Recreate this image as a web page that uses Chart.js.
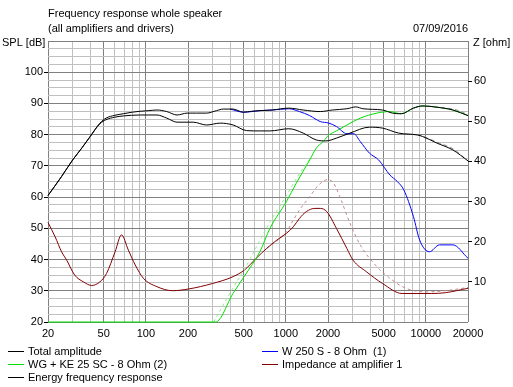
<!DOCTYPE html>
<html>
<head>
<meta charset="utf-8">
<script src="https://cdn.jsdelivr.net/npm/chart.js@4"></script>
<style>
  body { margin: 0; background: #fff; }
  canvas { display: block; }
</style>
</head>
<body>
<canvas id="freqChart" width="513" height="387"></canvas>
<script>
// frequency axis
const xTicks = [20, 30, 40, 50, 60, 70, 80, 90, 100, 200, 300, 400, 500, 600, 700, 800, 900,
  1000, 2000, 3000, 4000, 5000, 6000, 7000, 8000, 9000, 10000, 20000];
const xLabels = [20, 50, 100, 200, 500, 1000, 2000, 5000, 10000, 20000];

// Total amplitude (dB)
const totalF = [20, 25, 30, 35, 40, 47, 52, 60, 69, 80, 91, 105, 120, 141, 167, 197, 230, 271, 320, 357,
  420, 496, 570, 652, 800, 1050, 1330, 1760, 2150, 2730, 3160, 3560, 4900, 5770, 6680, 8150, 9500, 12000, 15600, 20000];
const totalV = [60.5, 66.6, 71.9, 75.8, 79.4, 83.7, 85.3, 86.2, 86.7, 87.2, 87.5, 87.7, 87.9, 87.4, 86.3, 86.9, 86.9, 86.9, 87.7, 88.2,
  88.2, 87.2, 87.5, 87.7, 87.9, 88.5, 87.9, 87.4, 87.9, 88.3, 88.9, 88.3, 87.9, 86.9, 86.7, 88.5, 89.2, 88.8, 87.9, 86.1];

// Energy frequency response (dB)
const energyF = [20, 25, 30, 35, 40, 47, 52, 60, 69, 91, 120, 141, 167, 218, 271, 340, 420, 524, 652, 770,
  1050, 1330, 1650, 1930, 2300, 2870, 3950, 4900, 6400, 8700, 9500, 12000, 15600, 20000];
const energyV = [60.5, 66.6, 71.9, 75.8, 79.4, 83.5, 84.8, 85.6, 86.0, 86.3, 86.3, 85.3, 84.0, 84.0, 83.1, 83.7, 83.1, 81.3, 81.2, 81.2,
  81.9, 80.5, 78.3, 78.0, 78.9, 80.5, 82.4, 82.1, 80.5, 79.9, 79.4, 77.3, 75.1, 71.6];

// W 250 S - 8 Ohm (1) (dB)
const wooferF = [400, 500, 652, 800, 1050, 1250, 1480, 1760, 2030, 2300, 2730, 3050, 3400, 3950, 4600, 5530,
  6250, 6960, 8150, 9020, 10600, 12500, 15600, 20000];
const wooferV = [88.2, 87.2, 87.7, 87.9, 88.3, 87.4, 86.1, 84.2, 83.7, 82.6, 80.3, 80.3, 77.8, 74.1, 71.9, 67.1,
  65.0, 62.3, 53.8, 46.3, 42.5, 44.7, 44.7, 40.4];

// WG + KE 25 SC - 8 Ohm (2) (dB)
const tweeterF = [20, 315, 420, 508, 652, 770, 1010, 1185, 1480, 1650, 1850, 2030, 2300, 2730, 3400, 4470,
  5530, 6680, 8150, 9500, 12000, 15600, 20000];
const tweeterV = [20, 20, 29.2, 34.8, 42.5, 50.0, 58.6, 64.4, 71.9, 75.7, 77.8, 79.9, 81.2, 83.1, 85.3, 86.9,
  87.4, 86.7, 88.5, 89.2, 88.8, 87.9, 86.1];

// Impedance at amplifier 1 (ohm)
const impF = [20, 22.5, 25, 27.2, 31, 35.8, 41, 47, 52.4, 60.3, 67, 75, 84, 96, 120, 155, 200, 300, 420, 508,
  615, 728, 862, 1010, 1130, 1250, 1400, 1612, 1760, 1960, 2300, 2730, 3020, 3770, 4900, 6770, 11000, 13800, 20000];
const impV = [24.8, 21.2, 17.5, 15.4, 11.7, 10.0, 9.1, 10.0, 12.1, 17.5, 21.7, 17.9, 14.2, 10.9, 8.8, 7.8, 8.2, 9.6, 11.3, 13.0,
  15.9, 18.3, 20.4, 22.1, 23.7, 25.8, 27.5, 28.3, 28.3, 27.5, 23.3, 18.3, 15.4, 12.5, 9.6, 7.1, 7.1, 7.3, 8.4];

// reference (dashed) curves
const impRefF = [728, 1010, 1130, 1250, 1480, 1700, 2000, 2200, 2430, 2870, 3400, 4250, 5530, 7200, 10000, 13800, 20000];
const impRefV = [18.3, 22.5, 25.4, 27.9, 31.2, 34.0, 35.5, 34.5, 31.2, 24.6, 19.2, 14.6, 10.9, 8.4, 7.5, 7.8, 8.6];
const tweeterRefF = [305, 420, 508, 615, 770, 1010, 1250, 1500];
const tweeterRefV = [20, 31.0, 37.0, 44.0, 52.0, 60.5, 67.5, 72.5];
const totalRefF = [8150, 9500, 12000, 15600, 17500, 20000];
const totalRefV = [88.5, 89.2, 88.8, 88.2, 87.6, 86.3];
const energyRefF = [8700, 9500, 12000, 15600, 20000];
const energyRefV = [80.0, 79.5, 77.6, 75.5, 71.6];

const FONT = '"Liberation Sans", Arial, sans-serif';
Chart.defaults.font.family = FONT;
Chart.defaults.font.size = 11;
Chart.defaults.color = "#000";

function pts(f, v) {
  return f.map((x, i) => ({ x: x, y: v[i] }));
}

function line(label, f, v, color, axis, extra) {
  return Object.assign({
    label: label,
    data: pts(f, v),
    yAxisID: axis,
    borderColor: color,
    backgroundColor: color,
    borderWidth: 1,
    pointRadius: 0,
    fill: false,
    cubicInterpolationMode: "monotone",
    clip: 3
  }, extra || {});
}

const headerPlugin = {
  id: "header",
  afterDraw(chart) {
    const c = chart.ctx;
    c.save();
    c.font = "11px " + FONT;
    c.fillStyle = "#000";
    c.textBaseline = "alphabetic";
    c.textAlign = "left";
    c.fillText("Frequency response whole speaker", 48, 17);
    c.fillText("(all amplifiers and drivers)", 48, 32);
    c.fillText("SPL [dB]", 2, 46);
    c.fillText("Z [ohm]", 473, 46);
    c.textAlign = "right";
    c.fillText("07/09/2016", 468, 32);
    c.restore();
  }
};

const legendPlugin = {
  id: "sideLegend",
  afterDraw(chart) {
    const c = chart.ctx;
    c.save();
    c.font = "11px " + FONT;
    c.textBaseline = "alphabetic";
    c.textAlign = "left";
    chart.data.datasets.forEach(ds => {
      if (!ds.legendSlot) return;
      const x = ds.legendSlot[0] === 0 ? 8 : 262;
      const y = 351 + ds.legendSlot[1] * 13;
      c.strokeStyle = ds.borderColor;
      c.lineWidth = 1;
      c.beginPath();
      c.moveTo(x, y + 0.5);
      c.lineTo(x + 16, y + 0.5);
      c.stroke();
      c.fillStyle = "#000";
      c.fillText(ds.label, x + 20, y + 4);
    });
    c.restore();
  }
};

new Chart(document.getElementById("freqChart"), {
  type: "line",
  data: {
    datasets: [
      line("Total amplitude", totalF, totalV, "#000000", "y", { legendSlot: [0, 0] }),
      line("Energy frequency response", energyF, energyV, "#000000", "y", { legendSlot: [0, 2] }),
      line("", totalRefF, totalRefV, "#909090", "y", { borderDash: [4, 3] }),
      line("", energyRefF, energyRefV, "#909090", "y", { borderDash: [4, 3] }),
      line("W 250 S - 8 Ohm  (1)", wooferF, wooferV, "#0000ff", "y", { legendSlot: [1, 0] }),
      line("WG + KE 25 SC - 8 Ohm (2)", tweeterF, tweeterV, "#00e000", "y", { legendSlot: [0, 1] }),
      line("", tweeterRefF, tweeterRefV, "#90f090", "y", { borderDash: [3, 3] }),
      line("Impedance at amplifier 1", impF, impV, "#800000", "y1", { legendSlot: [1, 1] }),
      line("", impRefF, impRefV, "#c08888", "y1", { borderDash: [3, 3] })
    ]
  },
  options: {
    responsive: false,
    animation: false,
    devicePixelRatio: 1,
    layout: { padding: { top: 41, bottom: 45, left: 0, right: 0 } },
    plugins: {
      legend: { display: false },
      tooltip: { enabled: false }
    },
    scales: {
      x: {
        type: "logarithmic",
        min: 20,
        max: 20000,
        afterBuildTicks: s => { s.ticks = xTicks.map(v => ({ value: v })); },
        afterFit: s => { s.height = 20; },
        border: { display: false },
        grid: {
          drawTicks: false,
          color: c => xLabels.includes(c.tick.value) ? "#808080" : "#c0c0c0"
        },
        ticks: {
          autoSkip: false,
          maxRotation: 0,
          padding: 5,
          callback: v => xLabels.includes(v) ? String(v) : ""
        }
      },
      y: {
        position: "left",
        min: 20,
        max: 110,
        afterFit: s => { s.width = 48; },
        border: { display: false },
        grid: {
          tickLength: 4,
          color: c => c.tick.value % 10 === 0 ? "#808080" : "#c0c0c0",
          tickColor: c => (c.tick.value % 10 === 0 && c.tick.value <= 100) ? "#000" : "rgba(0,0,0,0)"
        },
        ticks: {
          stepSize: 2.5,
          autoSkip: false,
          padding: 1,
          callback: v => (v % 10 === 0 && v <= 100) ? String(v) : ""
        }
      },
      y1: {
        position: "right",
        min: 0,
        max: 70,
        afterFit: s => { s.width = 45; },
        border: { display: false },
        grid: {
          drawOnChartArea: false,
          tickLength: 4,
          tickColor: c => (c.tick.value >= 10 && c.tick.value <= 60) ? "#000" : "rgba(0,0,0,0)"
        },
        ticks: {
          stepSize: 10,
          padding: 2,
          callback: v => (v >= 10 && v <= 60) ? String(v) : ""
        }
      }
    }
  },
  plugins: [headerPlugin, legendPlugin]
});
</script>
</body>
</html>
